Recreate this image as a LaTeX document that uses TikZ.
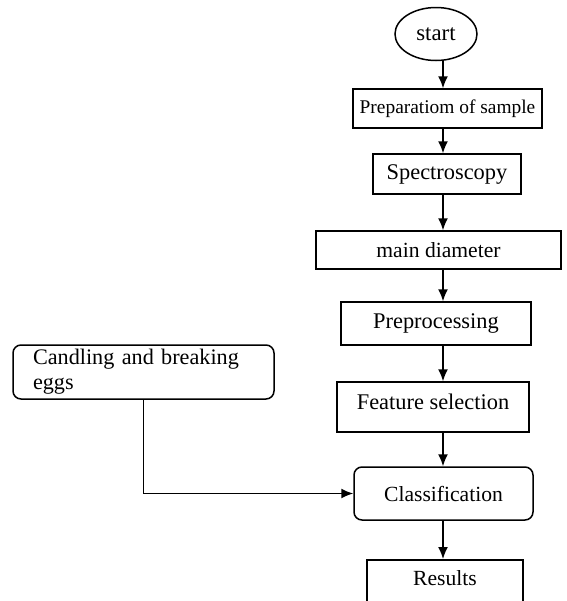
\documentclass[tikz,border=0pt]{standalone}
\usepackage{fontspec}
\setmainfont{Liberation Serif}
\usetikzlibrary{shapes.geometric,arrows.meta}

\tikzset{
	block/.style={draw,rectangle,inner sep=0pt,font=\fontsize{11.2}{13}\selectfont},
	rblock/.style={block,rounded corners=4pt},
}

\begin{document}
\begin{tikzpicture}[x=0.5pt,y=-0.5pt,>={Latex[length=6pt,width=5pt]},line width=0.75pt]
	\useasboundingbox (0,0) rectangle (567,601);
	\clip (0,0) rectangle (567,601);
	\coordinate (axis) at (443,0);
	\node[ellipse,draw,minimum width=41pt,minimum height=26.5pt,inner sep=0pt,font=\fontsize{11.4}{13}\selectfont] (start) at (436,34) {start};
	\node[block,minimum width=94.5pt,minimum height=19.5pt,font=\fontsize{9.7}{12}\selectfont] (prep) at (447.5,108.5) {Preparatiom of sample};
	\node[block,minimum width=74pt,minimum height=20pt] (spec) at (447,174) {Spectroscopy};
	\node[block,minimum width=122.5pt,minimum height=19pt,font=\fontsize{10.8}{13}\selectfont] (diam) at (438.5,250) {main diameter};
	\node[block,minimum width=95pt,minimum height=21.5pt] (prepro) at (436,323.5) {Preprocessing};
	\node[block,minimum width=96pt,minimum height=25pt,text depth=5pt] (feat) at (433,407) {Feature selection};
	\node[rblock,minimum width=89.5pt,minimum height=26.5pt,font=\fontsize{10.8}{13}\selectfont] (cls) at (443.5,493.5) {Classification};
	\node[rblock,minimum height=27pt,inner xsep=10pt,text width=110.5pt,align=left,font=\fontsize{11.1}{12.5}\selectfont] (cand) at (143.5,372) {Candling and breaking\\eggs};
	\node[block,anchor=north,minimum width=78pt,text height=8pt,text depth=12pt,inner ysep=5pt,font=\fontsize{10.8}{13}\selectfont] (res) at (445,559) {Results};
	\path[->]
	(start.south -| axis) edge (prep.north -| axis)
	(prep.south -| axis) edge (spec.north -| axis)
	(spec.south -| axis) edge (diam.north -| axis)
	(diam.south -| axis) edge (prepro.north -| axis)
	(prepro.south -| axis) edge (feat.north -| axis)
	(feat.south -| axis) edge (cls.north -| axis)
	(cls.south -| axis) edge (res.north -| axis);
	\draw[->] (cand.south) |- (cls.west);
\end{tikzpicture}
\end{document}
